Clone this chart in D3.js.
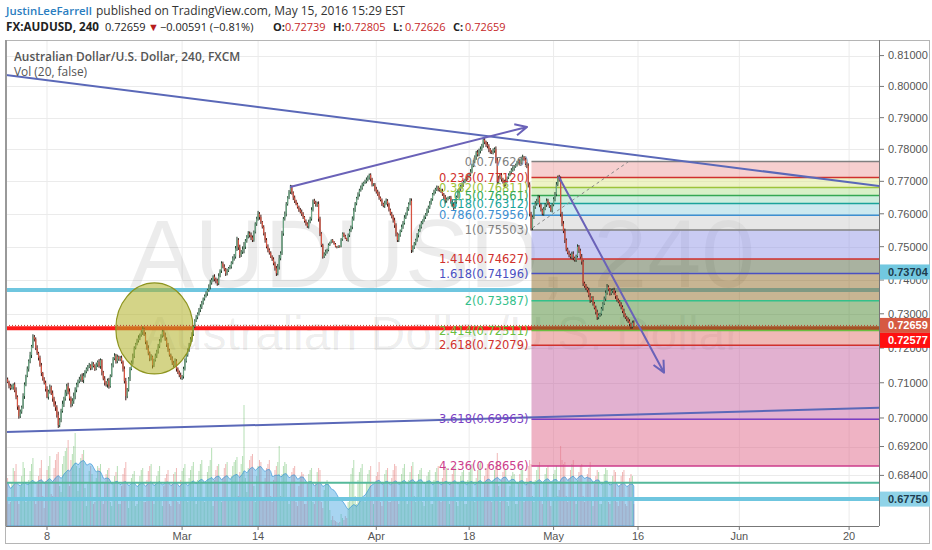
<!DOCTYPE html>
<html><head><meta charset="utf-8">
<script src="https://cdn.jsdelivr.net/npm/d3@7"></script>
<style>body{margin:0;background:#fff;}svg{display:block;}</style>
</head><body>
<svg id="c" width="932" height="550"></svg>
<script>
// ---------- DATA ----------
// 240-minute bars, FX:AUDUSD, from the first bar of Feb 1 2016 to the last bar of May 13 2016 (6 bars per trading day)
// closes in pips above 0.70000
const firstOpen = 96;
const closes = [
100,104,96,110,102,92, 85,88,95,78,60,32, 5,18,30,62,95,120, 140,162,180,205,232,226, 200,185,172,150,128,112,
100,82,60,75,88,70, 55,38,30,8,-20,-5, 20,40,55,72,90,75, 55,40,48,62,80,95, 104,110,118,108,120,132,
140,146,150,142,155,148, 140,152,160,148,165,130, 112,100,95,106,90,120, 150,170,178,162,175,168, 172,160,140,105,62,80,
112,140,158,176,200,212, 222,230,238,246,255,240, 218,200,185,170,175,150, 165,178,190,205,220,236, 248,238,225,210,195,180,
170,158,150,162,140,130, 122,115,118,140,162,180, 195,210,225,240,262,280, 290,300,312,320,332,345, 352,360,370,380,392,400,
410,402,398,390,412,428, 450,440,432,420,428,436, 440,452,465,470,495,520, 498,475,485,492,500,518, 530,540,535,528,520,545,
570,585,600,590,575,560, 540,520,500,490,482,470, 462,450,435,420,440,465, 480,540,585,600,630,650, 668,682,665,650,640,630,
620,612,606,600,590,578, 570,562,575,585,612,640, 635,628,630,585,540,505, 470,478,485,490,505,512, 520,515,508,500,498,502,
500,522,540,532,525,520, 535,548,560,585,610,632, 648,660,672,680,690,696, 700,705,712,720,708,690, 690,676,668,660,650,642,
630,625,634,640,630,612, 600,592,580,565,540,520, 535,548,560,572,588,600, 615,630,640,490,498,510, 520,535,548,560,572,580,
590,598,610,620,632,645, 660,668,675,680,676,672, 670,660,652,640,645,650, 650,638,628,620,635,652, 670,676,684,690,698,705,
710,716,722,730,748,762, 775,790,784,795,800,812, 830,822,815,810,800,792, 790,796,800,765,700,712, 720,706,698,690,700,712,
720,728,735,740,746,752, 760,764,758,770,775,768, 755,748,690,600,556,590, 620,632,640,650,628,612, 600,615,628,640,632,622,
610,628,645,660,690,713, 705,600,570,548,520,492, 482,475,470,478,466,460, 472,500,488,470,455,390, 382,376,370,355,340,348,
330,318,305,290,296,300, 315,330,345,362,380,372, 360,368,370,362,352,340, 336,328,320,308,298,290, 284,278,270,262,273.9,265.9
];
// upper / lower wick lengths in pips
const wickHi = [
6,4,8,3,5,4, 5,7,3,6,9,4, 4,6,5,8,6,3, 7,5,9,4,8,6, 5,8,4,6,7,3,
4,6,8,5,7,4, 8,5,9,6,10,5, 6,9,5,8,7,10, 9,6,8,10,7,5, 5,7,6,9,8,4,
4,5,7,3,6,4, 5,6,4,8,5,3, 4,7,5,6,8,4, 6,4,7,5,6,3, 5,6,4,7,9,5,
4,5,6,8,5,3, 5,7,4,6,8,4, 6,4,8,5,7,3, 4,6,5,7,6,4, 5,4,7,6,5,3,
4,6,5,8,6,4, 5,7,4,6,8,3, 4,5,7,6,5,4, 6,4,5,8,6,3, 5,6,4,7,9,6,
4,7,5,6,8,4, 6,5,7,4,6,3, 5,4,6,8,7,10, 6,8,5,9,14,5, 5,7,6,8,6,4,
4,6,9,5,7,3, 5,4,6,7,5,4, 4,6,5,7,8,10, 6,8,5,7,6,4, 5,7,6,4,6,3,
4,5,6,7,5,3, 5,4,7,6,8,4, 6,5,7,8,6,4, 4,5,6,4,5,3, 2,3,2,3,2,2,
2,4,3,3,4,2, 5,6,4,7,8,4, 4,6,5,7,6,3, 5,7,6,4,5,3, 4,5,7,6,8,3,
5,4,6,7,5,4, 4,6,5,8,6,3, 5,4,7,6,8,4, 6,5,8,7,6,4, 4,6,5,7,6,3,
5,4,6,5,7,3, 4,6,5,7,6,4, 5,7,4,6,5,3, 4,5,7,6,8,4, 5,4,6,7,5,3,
4,6,5,8,7,4, 6,5,8,7,9,5, 7,6,5,8,6,4, 5,7,6,9,8,5, 4,6,5,7,6,3,
5,4,6,7,5,3, 4,6,5,7,8,4, 6,5,8,7,6,5, 5,7,6,8,6,4, 4,6,5,7,6,3,
5,4,6,7,8,5, 7,10,6,8,7,5, 5,6,4,7,8,4, 4,7,5,6,8,5, 5,6,4,7,6,3,
4,5,6,7,5,3, 5,4,6,7,8,4, 4,6,5,7,6,3, 5,4,6,5,7,3, 4,5,6,4,6,6.6
];
const wickLo = [
5,7,4,6,3,8, 6,4,8,5,7,9, 7,5,6,4,8,5, 4,8,6,9,5,7, 6,5,8,4,9,6,
5,7,4,8,6,5, 9,6,10,7,8,6, 7,5,9,6,10,8, 6,10,7,8,9,7, 8,5,7,6,9,5,
5,7,4,6,5,4, 6,4,7,5,8,9, 5,8,6,9,7,4, 4,6,5,7,6,5, 6,5,8,7,12,6,
5,7,4,6,5,4, 4,6,7,5,8,5, 7,5,6,8,6,9, 5,4,7,6,5,4, 6,5,4,7,6,5,
5,7,6,4,8,5, 6,5,7,6,5,4, 5,6,4,7,5,4, 4,6,5,7,6,5, 6,4,7,5,8,6,
5,6,8,7,5,4, 7,5,6,8,6,4, 4,6,5,7,6,8, 8,9,6,7,12,7, 6,5,7,8,6,5,
5,7,6,8,6,5, 6,8,5,7,6,4, 5,6,7,8,6,9, 6,5,7,6,8,5, 5,7,6,8,7,4,
4,6,5,7,6,5, 6,5,7,4,6,5, 5,6,7,9,8,6, 6,4,5,6,4,3, 2,3,2,2,3,2,
3,2,4,3,2,3, 5,6,4,7,6,4, 6,5,7,4,6,5, 4,6,5,7,8,6, 5,7,6,5,7,4,
6,5,7,6,8,5, 5,6,7,8,9,6, 6,5,4,6,5,4, 5,6,4,9,7,5, 6,5,7,4,5,4,
4,6,5,7,5,4, 5,4,6,5,7,4, 6,5,7,8,6,4, 5,7,6,8,5,4, 4,5,6,5,7,4,
5,6,4,6,5,4, 6,8,7,6,8,5, 7,6,8,7,9,6, 5,6,7,9,10,6, 6,7,5,8,6,4,
5,4,6,5,7,4, 6,5,7,6,5,4, 5,7,9,8,7,6, 6,5,7,6,8,5, 5,6,4,7,6,4,
4,6,5,7,6,5, 6,9,8,7,9,6, 5,7,6,8,7,5, 6,5,7,6,9,8, 5,6,7,6,8,5,
6,5,7,8,6,5, 5,6,4,7,6,4, 6,5,7,6,8,4, 5,6,7,6,8,5, 6,5,7,6,5,3.3
];
// volume per bar (arbitrary units)
const volumes = [
20,38,52,60,48,22, 24,44,58,55,62,25, 22,40,50,64,58,24, 26,46,55,62,68,28, 22,42,50,58,66,30,
18,45,56,60,70,32, 30,58,66,72,74,40, 34,62,70,75,78,86, 40,66,72,80,93,60, 35,58,68,72,76,38,
20,42,55,60,52,22, 24,48,60,58,62,26, 22,44,52,56,58,24, 20,42,50,54,60,22, 22,40,52,58,64,26,
18,40,48,52,55,20, 22,44,50,56,58,24, 24,46,55,60,62,26, 22,42,50,55,60,25, 20,40,48,52,56,22,
20,42,52,54,58,24, 22,46,55,58,62,26, 24,48,56,60,64,28, 22,46,55,62,66,26, 24,44,54,60,66,78,
20,46,56,60,62,26, 24,48,58,62,64,28, 26,50,60,64,66,69, 30,54,62,70,121,48, 34,58,66,70,72,40,
24,50,60,66,64,28, 26,48,58,62,66,30, 24,46,56,60,64,80, 30,52,60,64,62,28, 22,44,54,58,60,24,
20,40,50,54,52,22, 22,42,52,56,58,24, 22,44,54,58,56,24, 18,36,44,46,42,16, 6,10,6,5,4,3,
4,12,8,6,10,8, 24,44,52,58,66,30, 22,46,54,58,62,26, 24,44,52,56,60,26, 22,42,50,54,64,24,
20,44,52,56,58,24, 24,48,56,62,60,26, 22,44,52,58,62,28, 22,46,54,60,64,30, 24,44,52,56,58,24,
20,42,50,54,56,22, 22,46,54,58,60,26, 24,48,56,60,58,26, 22,44,52,58,60,24, 20,42,50,54,56,22,
22,46,54,58,62,26, 24,48,56,62,64,28, 26,50,58,62,60,28, 24,46,56,60,73,40, 24,46,54,58,56,24,
20,40,50,54,52,22, 22,44,52,58,56,24, 26,48,60,66,62,30, 24,46,56,60,64,28, 22,44,52,58,60,26,
20,42,52,56,60,30, 36,80,66,62,64,30, 24,48,56,62,66,28, 22,46,54,60,62,30, 24,44,52,58,64,26,
20,42,50,56,54,22, 22,44,52,58,56,24, 22,42,50,56,54,24, 20,40,50,54,56,22, 20,40,48,52,50,22
];
const volMaLength = 20;

// axes
const priceTicks = [0.81,0.80,0.79,0.78,0.77,0.76,0.75,0.74,0.73,0.72,0.71,0.70,0.692,0.684];
const timeTickDates = ["2016-02-08","2016-03-01","2016-03-14","2016-04-01","2016-04-18","2016-05-02","2016-05-16","2016-06-01","2016-06-20"];
const timeTickLabels = ["8","Mar","14","Apr","18","May","16","Jun","20"];

// trend-based fib extension
const fibLevels = [0,0.236,0.382,0.5,0.618,0.786,1,1.414,1.618,2,2.414,2.618,3.618,4.236];
const fibValues = [0.77620,0.77120,0.76811,0.76561,0.76312,0.75956,0.75503,0.74627,0.74196,0.73387,0.72511,0.72079,0.69963,0.68656];
const fibStartBar = 376.3;
const fibDashed = [{b:377,p:0.75568},{b:446,p:0.77636}];

// horizontal lines
const hLineValues = [0.73704, 0.72577, 0.6775, 0.6820];
// trend lines, arrows and the ellipse (bar index, price)
const trendLines = [
  [{b:0,p:0.80388},{b:625,p:0.76845}],
  [{b:0,p:0.69601},{b:625,p:0.70292}]
];
const arrows = [
  [{b:204.7,p:0.76827},{b:373.1,p:0.78706}],
  [{b:395.8,p:0.77137},{b:470.5,p:0.71289}]
];
const ellipseData = {b0:80.9, b1:135.8, top:0.73912, bottom:0.71252};

// price scale markers (value, label position on the scale)
const lastPrice = 0.72659;
const axisMarkers = [0.73704, 0.72659, 0.72577, 0.6775];
const axisMarkerAt = [0.7424, 0.72659, 0.72577, 0.6775];

// header
const author = "JustinLeeFarrell";
const published = "published on TradingView.com, May 15, 2016 15:29 EST";
const symbolTitle = "FX:AUDUSD, 240";
const changeText = "\u22120.00591 (\u22120.81%)";
const ohlcLabels = ["O:","H:","L:","C:"];
const ohlcValues = ["0.72739","0.72805","0.72626","0.72659"];
const legendTitle = "Australian Dollar/U.S. Dollar, 240, FXCM";
const legendVol = "Vol (20, false)";
const watermark1 = "AUDUSD, 240";
const watermark2 = "Australian Dollar/U.S. Dollar";

// ---------- DRAW ----------
const svg = d3.select("#c");
const P = {l:6, r:879, t:40, b:526};
const x = d3.scaleLinear().domain([2.86, 623.25]).range([P.l, P.r]);
const y = d3.scaleLog().domain([0.6702, 0.8151]).range([P.b, P.t]);
const yv = d3.scaleLinear().domain([0, 150]).range([P.b, P.b - 150]);

function tradingDay(s){
  const d0 = new Date(2016,1,1), d = new Date(s+"T00:00:00");
  const n = d3.timeDay.count(d0, d);
  return Math.floor(n/7)*5 + Math.min(n%7, 5);
}
const dateBar = s => tradingDay(s)*6 + 2;

svg.append("rect").attr("width",932).attr("height",550).attr("fill","#fff");
svg.append("defs").append("clipPath").attr("id","pc").append("rect")
  .attr("x",P.l).attr("y",P.t).attr("width",P.r-P.l).attr("height",P.b-P.t);
const g = svg.append("g").attr("clip-path","url(#pc)");

// grid
g.selectAll(".vg").data(timeTickDates).join("line")
  .attr("x1",d=>x(dateBar(d))).attr("x2",d=>x(dateBar(d))).attr("y1",P.t).attr("y2",P.b)
  .attr("stroke","#ebebeb").attr("stroke-width",1);
g.selectAll(".hg").data(priceTicks).join("line")
  .attr("x1",P.l).attr("x2",P.r).attr("y1",d=>Math.round(y(d))+0.5).attr("y2",d=>Math.round(y(d))+0.5)
  .attr("stroke","#ebebeb").attr("stroke-width",1);

// watermark
const cx = (P.l+P.r)/2;
g.append("text").attr("x",cx).attr("y",287).attr("text-anchor","middle")
  .attr("font-family","Liberation Sans, Arial, sans-serif").attr("font-size",97)
  .attr("fill","#000").attr("fill-opacity",0.075).text(watermark1);
g.append("text").attr("x",cx).attr("y",350).attr("text-anchor","middle")
  .attr("font-family","Liberation Sans, Arial, sans-serif").attr("font-size",48)
  .attr("fill","#000").attr("fill-opacity",0.075).text(watermark2);

// bars
const bars = closes.map((c,i)=>{
  const o = i===0 ? firstOpen : closes[i-1];
  return {i, o:0.7+o/1e4, c:0.7+c/1e4,
    h:0.7+(Math.max(o,c)+wickHi[i])/1e4, l:0.7+(Math.min(o,c)-wickLo[i])/1e4, v:volumes[i]};
});

// volume
g.selectAll(".vb").data(bars).join("line")
  .attr("x1",d=>x(d.i)).attr("x2",d=>x(d.i)).attr("y1",yv(0)).attr("y2",d=>yv(d.v))
  .attr("stroke",d=>d.c>=d.o?"#5cb85c":"#e0625f").attr("stroke-opacity",0.45).attr("stroke-width",1);
const ma = bars.map((d,i)=>{
  const s = bars.slice(Math.max(0,i-volMaLength+1), i+1);
  return {i:d.i, m:d3.mean(s,e=>e.v)};
});
g.append("path").datum(ma)
  .attr("d", d3.area().x(d=>x(d.i)).y0(yv(0)).y1(d=>yv(d.m)))
  .attr("fill","#3da2e0").attr("fill-opacity",0.45)
  .attr("stroke","#2a8ad4").attr("stroke-opacity",0.6).attr("stroke-width",1);

// horizontal lines
const hStyles = [
  {c:"#6fc6df", w:4},
  {c:"#ff1a1a", w:4},
  {c:"#6fc6df", w:4},
  {c:"#55b99a", w:2}
];
g.selectAll(".hl").data(hLineValues).join("line")
  .attr("x1",P.l).attr("x2",P.r).attr("y1",d=>y(d)).attr("y2",d=>y(d))
  .attr("stroke",(d,i)=>hStyles[i].c).attr("stroke-width",(d,i)=>hStyles[i].w);

// fib extension
const fibLineColors = ["#808080","#d0312d","#9dc33b","#34a853","#1aa39a","#3d8fd1","#808080","#d0312d","#4a50c2","#33c08a","#6abf40","#d0312d","#7b3fc4","#cc3d8c"];
const fibBandColors = [null,"rgb(237,159,159)","rgb(221,231,141)","rgb(179,225,145)","rgb(155,221,187)","rgb(153,211,223)","rgb(205,205,205)","rgb(147,151,231)","rgb(83,101,65)","rgb(145,107,39)","rgb(75,135,49)","rgb(223,115,109)","rgb(197,99,161)","rgb(223,103,137)"];
const fx0 = x(fibStartBar), fx1 = P.r;
const bands = fibValues.slice(1).map((v,k)=>({a:fibValues[k], b:v, c:fibBandColors[k+1]}));
g.selectAll(".fb").data(bands).join("rect")
  .attr("x",fx0).attr("width",fx1-fx0).attr("y",d=>y(d.a)).attr("height",d=>y(d.b)-y(d.a))
  .attr("fill",d=>d.c).attr("fill-opacity",0.5);
g.selectAll(".fl").data(fibValues).join("line")
  .attr("x1",fx0).attr("x2",fx1).attr("y1",d=>y(d)).attr("y2",d=>y(d))
  .attr("stroke",(d,i)=>fibLineColors[i]).attr("stroke-width",1.5);
g.append("line").attr("x1",x(fibDashed[0].b)).attr("y1",y(fibDashed[0].p))
  .attr("x2",x(fibDashed[1].b)).attr("y2",y(fibDashed[1].p))
  .attr("stroke","#888").attr("stroke-width",1).attr("stroke-dasharray","3,3");

// candles
const cg = g.append("g");
cg.selectAll(".wk").data(bars).join("line")
  .attr("x1",d=>x(d.i)).attr("x2",d=>x(d.i)).attr("y1",d=>y(d.h)).attr("y2",d=>y(d.l))
  .attr("stroke",d=>d.c>=d.o?"#1f3d2a":"#3d1510").attr("stroke-width",1);
cg.selectAll(".bd").data(bars).join("rect")
  .attr("x",d=>x(d.i)-0.6).attr("width",1.2)
  .attr("y",d=>Math.min(y(d.o),y(d.c))).attr("height",d=>Math.max(0.8,Math.abs(y(d.o)-y(d.c))))
  .attr("fill",d=>d.c>=d.o?"#6ba583":"#d75442");

// ellipse
const ex0 = x(ellipseData.b0), ex1 = x(ellipseData.b1), ey0 = y(ellipseData.top), ey1 = y(ellipseData.bottom);
g.append("ellipse").attr("cx",(ex0+ex1)/2).attr("cy",(ey0+ey1)/2)
  .attr("rx",(ex1-ex0)/2).attr("ry",(ey1-ey0)/2)
  .attr("fill","#b0b024").attr("fill-opacity",0.55).attr("stroke","#8e9520").attr("stroke-width",1.2);

// current price dotted line
g.append("line").attr("x1",P.l).attr("x2",P.r).attr("y1",y(lastPrice)).attr("y2",y(lastPrice))
  .attr("stroke","#b8462e").attr("stroke-width",1).attr("stroke-dasharray","1,2");

// trend lines
g.selectAll(".tl").data(trendLines).join("line")
  .attr("x1",d=>x(d[0].b)).attr("y1",d=>y(d[0].p)).attr("x2",d=>x(d[1].b)).attr("y2",d=>y(d[1].p))
  .attr("stroke","#5a68b8").attr("stroke-width",2);
arrows.forEach(a=>{
  const x0=x(a[0].b), y0=y(a[0].p), x1=x(a[1].b), y1=y(a[1].p);
  const ang = Math.atan2(y1-y0, x1-x0), L = 13, sp = 0.45;
  const p1 = [x1 - L*Math.cos(ang-sp), y1 - L*Math.sin(ang-sp)];
  const p2 = [x1 - L*Math.cos(ang+sp), y1 - L*Math.sin(ang+sp)];
  g.append("path").attr("d",`M${x0},${y0}L${x1},${y1}M${p1[0]},${p1[1]}L${x1},${y1}L${p2[0]},${p2[1]}`)
    .attr("fill","none").attr("stroke","#6a62b8").attr("stroke-width",2).attr("stroke-linejoin","round");
});

// fib labels
g.selectAll(".ft").data(fibValues).join("text")
  .attr("x",fx0-3).attr("y",d=>y(d)).attr("dy","0.36em").attr("text-anchor","end")
  .attr("font-family","DejaVu Sans, Verdana, sans-serif").attr("font-size",11.5)
  .attr("fill",(d,i)=>fibLineColors[i])
  .text((d,i)=>`${fibLevels[i]}(${d.toFixed(5)})`);

// legend
svg.append("text").attr("x",14).attr("y",61).attr("font-family","Open Sans, sans-serif")
  .attr("font-size",11.9).attr("font-weight",600).attr("fill","#555").text(legendTitle);
svg.append("text").attr("x",14).attr("y",76).attr("font-family","Open Sans, sans-serif")
  .attr("font-size",11.9).attr("fill","#555").text(legendVol);

// frame
svg.append("rect").attr("x",5.5).attr("y",40.5).attr("width",924).attr("height",503)
  .attr("fill","none").attr("stroke","#b5b5b5");
svg.append("line").attr("x1",P.l).attr("x2",P.l).attr("y1",P.t).attr("y2",P.b).attr("stroke","#999").attr("stroke-width",2);
svg.append("line").attr("x1",P.r+0.5).attr("x2",P.r+0.5).attr("y1",P.t).attr("y2",P.b).attr("stroke","#777");
svg.append("line").attr("x1",P.l).attr("x2",P.r).attr("y1",P.b+0.5).attr("y2",P.b+0.5).attr("stroke","#777");

// price axis
const pa = svg.append("g");
pa.selectAll("line").data(priceTicks).join("line")
  .attr("x1",P.r).attr("x2",P.r+5).attr("y1",d=>y(d)).attr("y2",d=>y(d)).attr("stroke","#777");
pa.selectAll("text").data(priceTicks).join("text")
  .attr("x",P.r+9).attr("y",d=>y(d)).attr("dy","0.35em")
  .attr("font-family","Liberation Sans, Arial, sans-serif").attr("font-size",11).attr("fill","#555")
  .text(d=>d.toFixed(5));

// time axis
const ta = svg.append("g");
ta.selectAll("line").data(timeTickDates).join("line")
  .attr("x1",d=>x(dateBar(d))).attr("x2",d=>x(dateBar(d))).attr("y1",P.b).attr("y2",P.b+4).attr("stroke","#777");
ta.selectAll("text").data(timeTickDates).join("text")
  .attr("x",d=>x(dateBar(d))).attr("y",540).attr("text-anchor","middle")
  .attr("font-family","Liberation Sans, Arial, sans-serif").attr("font-size",11).attr("fill","#555")
  .text((d,i)=>timeTickLabels[i]);

// price axis markers
const mStyles = [
  {bg:"#72c8e0", fg:"#1d3b4d"},
  {bg:"#d65a42", fg:"#fff"},
  {bg:"#ff1010", fg:"#fff"},
  {bg:"#8fd3e8", fg:"#1d3b4d"}
];
let prevBottom = -1e9;
const mk = axisMarkers.map((v,i)=>({v, s:mStyles[i], cy:y(axisMarkerAt[i])}));
mk.sort((a,b)=>a.cy-b.cy).forEach(m=>{ if(m.cy-7.5 < prevBottom) m.cy = prevBottom+7.5; prevBottom = m.cy+7.5; });
const mg = svg.append("g");
mk.forEach(m=>{
  mg.append("rect").attr("x",P.r+1).attr("y",m.cy-7.5).attr("width",50).attr("height",15).attr("fill",m.s.bg);
  mg.append("text").attr("x",P.r+9).attr("y",m.cy).attr("dy","0.36em")
    .attr("font-family","Liberation Sans, Arial, sans-serif").attr("font-size",11).attr("font-weight",600)
    .attr("fill",m.s.fg).text(m.v.toFixed(5));
});

// header
const hf = "Open Sans, sans-serif";
svg.append("text").attr("x",6).attr("y",15).attr("font-family",hf).attr("font-size",11)
  .attr("font-weight",600).attr("fill","#2a7dc0").attr("textLength",86).attr("lengthAdjust","spacingAndGlyphs").text(author);
svg.append("text").attr("x",96).attr("y",15).attr("font-family",hf).attr("font-size",12).attr("fill","#333").text(published);
svg.append("text").attr("x",6).attr("y",31).attr("font-family",hf).attr("font-size",11.5).attr("font-weight",700)
  .attr("fill","#222").attr("textLength",93).attr("lengthAdjust","spacingAndGlyphs").text(symbolTitle);
const h2 = svg.append("text").attr("y",31).attr("font-family",hf).attr("font-size",11).attr("fill","#222");
h2.append("tspan").attr("x",105).text(lastPrice.toFixed(5));
h2.append("tspan").attr("x",148).attr("fill","#b71c1c").text("\u25BC");
h2.append("tspan").attr("x",160).text(changeText);
const ohlcX = [273,333,393,453];
ohlcLabels.forEach((l,i)=>{
  h2.append("tspan").attr("x",ohlcX[i]).attr("font-weight",700).text(l);
  h2.append("tspan").attr("x",ohlcX[i]+12).attr("fill","#c62828").text(ohlcValues[i]);
});
</script>
</body></html>
